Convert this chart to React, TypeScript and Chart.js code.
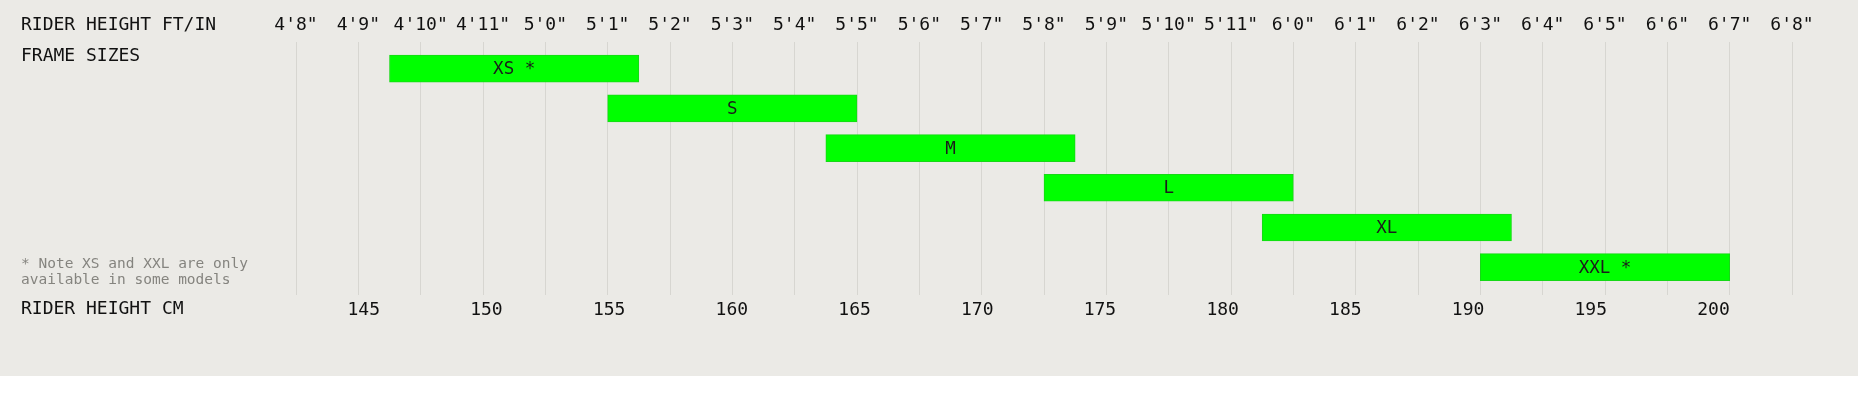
import React, { useEffect, useRef } from "react";
import { Chart, registerables } from "chart.js";

Chart.register(...registerables);

// ---- data ----
const INCH_TICKS = [56, 57, 58, 59, 60, 61, 62, 63, 64, 65, 66, 67, 68, 69, 70, 71, 72, 73, 74, 75, 76, 77, 78, 79, 80];
const FT_IN_LABELS = [
  "4'8\"", "4'9\"", "4'10\"", "4'11\"", "5'0\"", "5'1\"", "5'2\"", "5'3\"", "5'4\"", "5'5\"",
  "5'6\"", "5'7\"", "5'8\"", "5'9\"", "5'10\"", "5'11\"", "6'0\"", "6'1\"", "6'2\"", "6'3\"",
  "6'4\"", "6'5\"", "6'6\"", "6'7\"", "6'8\"",
];
const CM_TICKS = [145, 150, 155, 160, 165, 170, 175, 180, 185, 190, 195, 200];
const SIZES = ["XS", "S", "M", "L", "XL", "XXL"];
const BAR_LABELS = ["XS *", "S", "M", "L", "XL", "XXL *"];
const SIZE_MIN_IN = [57.5, 61, 64.5, 68, 71.5, 75];
const SIZE_MAX_IN = [61.5, 65, 68.5, 72, 75.5, 79];
const LEFT_LABELS = ["RIDER HEIGHT FT/IN", "FRAME SIZES", "RIDER HEIGHT CM"];
const NOTE_LINES = ["* Note XS and XXL are only", "available in some models"];

const CM_PER_IN = 2.54;
const FONT = "'DejaVu Sans Mono', monospace";
const BG = "#EBEAE6";

export default function App() {
  const ref = useRef<HTMLCanvasElement | null>(null);

  useEffect(() => {
    document.body.style.margin = "0";
    const canvas = ref.current;
    if (!canvas) return;

    const labelsPlugin = {
      id: "labelsPlugin",
      afterDatasetsDraw(chart: any) {
        const ctx = chart.ctx;
        const meta = chart.getDatasetMeta(0);
        ctx.save();
        ctx.font = `17.5px ${FONT}`;
        ctx.fillStyle = "#1b1b1b";
        ctx.textAlign = "center";
        ctx.textBaseline = "middle";
        meta.data.forEach((el: any, i: number) => {
          const p = el.getCenterPoint();
          ctx.fillText(BAR_LABELS[i], p.x, p.y + 1);
        });
        ctx.restore();
      },
      afterDraw(chart: any) {
        const ctx = chart.ctx;
        ctx.save();
        ctx.textAlign = "left";
        ctx.textBaseline = "middle";
        ctx.fillStyle = "#111";
        ctx.font = `18px ${FONT}`;
        ctx.fillText(LEFT_LABELS[0], 21, 25);
        ctx.fillText(LEFT_LABELS[1], 21, 56);
        ctx.fillText(LEFT_LABELS[2], 21, 309);
        ctx.fillStyle = "#85847f";
        ctx.font = `14.5px ${FONT}`;
        ctx.fillText(NOTE_LINES[0], 21, 264);
        ctx.fillText(NOTE_LINES[1], 21, 280);
        ctx.restore();
      },
    };

    const chart = new Chart(canvas, {
      type: "bar",
      data: {
        labels: SIZES,
        datasets: [
          {
            data: SIZES.map((_, i) => ({ x: [SIZE_MIN_IN[i], SIZE_MAX_IN[i]], y: i })) as any,
            backgroundColor: "#00FF00",
            borderColor: "#16d816",
            borderWidth: 1,
            borderSkipped: false,
            barThickness: 27,
          },
        ],
      },
      options: {
        indexAxis: "y",
        animation: false,
        responsive: false,
        devicePixelRatio: 1,
        layout: { padding: { left: 296, right: 66, top: 0, bottom: 0 } },
        plugins: { legend: { display: false }, tooltip: { enabled: false } },
        scales: {
          x: {
            type: "linear",
            position: "top",
            min: INCH_TICKS[0],
            max: INCH_TICKS[INCH_TICKS.length - 1],
            border: { display: false },
            grid: { color: "#D7D6D1", lineWidth: 1, drawTicks: false },
            afterBuildTicks: (scale: any) => {
              scale.ticks = INCH_TICKS.map((v) => ({ value: v }));
            },
            afterFit: (scale: any) => {
              scale.height = 42;
            },
            ticks: {
              padding: 6,
              autoSkip: false,
              maxRotation: 0,
              color: "#111",
              font: { family: FONT, size: 18 },
              callback: (v: any) => FT_IN_LABELS[INCH_TICKS.indexOf(Number(v))],
            },
          },
          cm: {
            type: "linear",
            position: "bottom",
            axis: "x",
            min: INCH_TICKS[0] * CM_PER_IN,
            max: INCH_TICKS[INCH_TICKS.length - 1] * CM_PER_IN,
            border: { display: false },
            grid: { display: false, drawTicks: false },
            afterBuildTicks: (scale: any) => {
              scale.ticks = CM_TICKS.map((v) => ({ value: v }));
            },
            afterFit: (scale: any) => {
              scale.height = 81;
            },
            ticks: {
              padding: 5,
              autoSkip: false,
              maxRotation: 0,
              color: "#111",
              font: { family: FONT, size: 18 },
              callback: (v: any) => String(v),
            },
          },
          y: {
            type: "linear",
            display: false,
            reverse: true,
            offset: false,
            grace: 0,
            min: -0.67,
            max: 5.7,
          },
        },
      } as any,
      plugins: [labelsPlugin],
    });

    return () => chart.destroy();
  }, []);

  return (
    <div style={{ width: 1858, height: 376, background: BG }}>
      <canvas ref={ref} width={1858} height={376} style={{ display: "block" }} />
    </div>
  );
}
